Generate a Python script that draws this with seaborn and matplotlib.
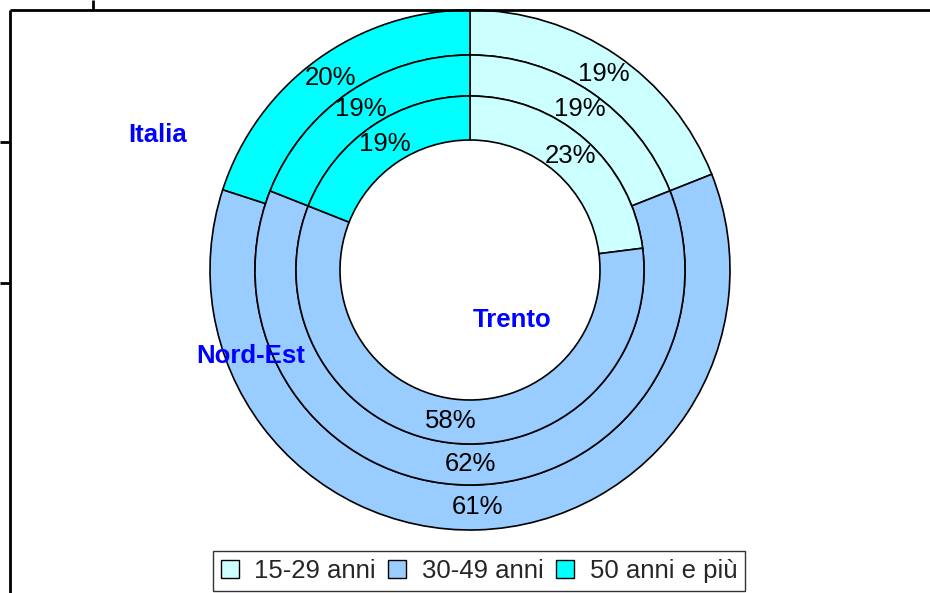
import matplotlib
matplotlib.use("Agg")
import matplotlib.pyplot as plt
import seaborn as sns
from matplotlib.patches import Patch

sns.set_theme(style="white")
plt.rcParams['font.family'] = ['Liberation Sans', 'DejaVu Sans']

categories = ["15-29 anni", "30-49 anni", "50 anni e più"]
italia = [19, 61, 20]
nord_est = [19, 62, 19]
trento = [23, 58, 19]
series_names = ["Italia", "Nord-Est", "Trento"]
colors = sns.color_palette(["#CCFFFF", "#99CCFF", "#00FFFF"])

W, H = 930, 593
fig = plt.figure(figsize=(W / 100, H / 100), dpi=100)
ax = fig.add_axes([0, 0, 1, 1])

FS = 18.5
cx, cy = 470, H - 270
rings = [(italia, 260, 45), (nord_est, 215, 41), (trento, 174, 44)]
for vals, r, w in rings:
    wedges, texts, autotexts = ax.pie(
        vals, radius=r, center=(cx, cy), startangle=90, counterclock=False,
        colors=colors, autopct='%.0f%%', pctdistance=(r - w / 2) / r,
        wedgeprops=dict(width=w, edgecolor='black', linewidth=1.2),
        textprops=dict(fontsize=FS, color='black'))

# series name labels
ax.text(158, H - 135, series_names[0], color='#0000FF', fontsize=FS,
        fontweight='bold', ha='center', va='center')
ax.text(251, H - 356, series_names[1], color='#0000FF', fontsize=FS,
        fontweight='bold', ha='center', va='center')
ax.text(512, H - 320, series_names[2], color='#0000FF', fontsize=FS,
        fontweight='bold', ha='center', va='center')

ax.set_xlim(0, W)
ax.set_ylim(0, H)
ax.set_aspect('equal')
ax.axis('off')

# frame decorations
lk = dict(color='black', linewidth=2, clip_on=False, solid_capstyle='butt')
ax.plot([10, 10], [H - 10, 0], **lk)
ax.plot([10, W], [H - 10, H - 10], **lk)
ax.plot([93, 93], [H, H - 10], **lk)
ax.plot([0, 10], [H - 142, H - 142], **lk)
ax.plot([0, 10], [H - 283, H - 283], **lk)

handles = [Patch(facecolor=c, edgecolor='black', linewidth=1) for c in colors]
leg = ax.legend(handles, categories, loc='center', ncol=3,
                bbox_to_anchor=(479, 22), bbox_transform=ax.transData,
                fontsize=FS, frameon=True, fancybox=False, handlelength=0.7,
                handleheight=0.7, handletextpad=0.6, columnspacing=0.5,
                borderpad=0.3, borderaxespad=0)
leg.get_frame().set_edgecolor('black')
leg.get_frame().set_linewidth(1)
leg.get_frame().set_facecolor('white')

fig.savefig("out.png", dpi=100)
